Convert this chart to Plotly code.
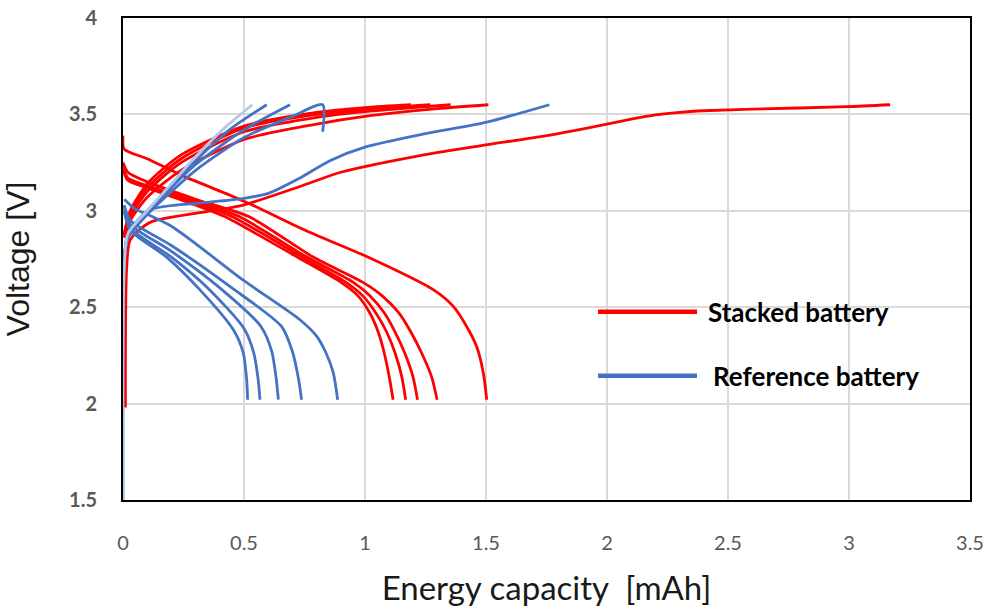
import plotly.graph_objects as go

# ---------------- data ----------------
# Stacked battery - discharge curves
red_dis_x = [
    [0.0, 0.02, 0.1, 0.3, 0.42, 0.72, 0.9, 0.97, 1.02, 1.055, 1.08, 1.1, 1.116],
    [0.0, 0.02, 0.1, 0.3, 0.45, 0.74, 0.92, 0.99, 1.045, 1.09, 1.125, 1.152, 1.168],
    [0.0, 0.02, 0.1, 0.3, 0.48, 0.76, 0.95, 1.02, 1.08, 1.125, 1.165, 1.198, 1.217],
    [0.0, 0.02, 0.1, 0.3, 0.52, 0.786, 0.99, 1.07, 1.14, 1.19, 1.235, 1.275, 1.298],
    [0.0, 0.005, 0.1, 0.25, 0.5, 0.75, 1.007, 1.282, 1.365, 1.42, 1.461, 1.489, 1.503],
]
red_dis_y = [
    [3.22, 3.16, 3.12, 3.03, 2.97, 2.76, 2.63, 2.56, 2.47, 2.37, 2.26, 2.14, 2.02],
    [3.22, 3.16, 3.12, 3.04, 2.97, 2.76, 2.63, 2.56, 2.47, 2.37, 2.26, 2.14, 2.02],
    [3.23, 3.17, 3.13, 3.05, 2.97, 2.76, 2.63, 2.56, 2.47, 2.37, 2.26, 2.14, 2.02],
    [3.25, 3.20, 3.15, 3.06, 2.97, 2.76, 2.63, 2.56, 2.47, 2.37, 2.26, 2.14, 2.02],
    [3.39, 3.32, 3.27, 3.18, 3.05, 2.90, 2.763, 2.591, 2.504, 2.40, 2.297, 2.159, 2.02],
]
# Stacked battery - charge curves
red_chg_x = [
    [0.005, 0.03, 0.1, 0.24, 0.5, 0.8, 1.0, 1.19],
    [0.005, 0.03, 0.1, 0.24, 0.5, 0.8, 1.0, 1.27],
    [0.005, 0.03, 0.1, 0.24, 0.5, 0.8, 1.0, 1.354],
    [0.005, 0.03, 0.1, 0.24, 0.5, 0.8, 1.0, 1.3, 1.51],
    [0.01, 0.015, 0.03, 0.112, 0.318, 0.497, 0.731, 0.9, 1.2, 1.475, 1.75, 2.0, 2.1,
     2.2, 2.3, 2.4, 2.6, 2.99, 3.17],
]
red_chg_y = [
    [2.88, 3.00, 3.14, 3.29, 3.44, 3.51, 3.535, 3.55],
    [2.88, 2.99, 3.12, 3.27, 3.43, 3.50, 3.525, 3.55],
    [2.87, 2.97, 3.10, 3.25, 3.41, 3.485, 3.515, 3.55],
    [2.86, 2.95, 3.07, 3.21, 3.37, 3.45, 3.49, 3.53, 3.55],
    [1.98, 2.70, 2.85, 2.94, 2.99, 3.03, 3.126, 3.20, 3.28, 3.337, 3.39, 3.45, 3.475,
     3.497, 3.511, 3.519, 3.527, 3.54, 3.55],
]
# Reference battery - discharge curves
blue_dis_x = [
    [0.005, 0.03, 0.18, 0.318, 0.456, 0.497, 0.511, 0.515],
    [0.005, 0.03, 0.2, 0.35, 0.5, 0.54, 0.558, 0.566],
    [0.005, 0.03, 0.2, 0.4, 0.57, 0.615, 0.633, 0.642],
    [0.005, 0.03, 0.2, 0.45, 0.655, 0.70, 0.725, 0.738],
    [0.005, 0.05, 0.12, 0.2, 0.3, 0.497, 0.731, 0.80, 0.84, 0.869, 0.887],
]
blue_dis_y = [
    [3.00, 2.90, 2.76, 2.59, 2.383, 2.263, 2.124, 2.02],
    [3.00, 2.91, 2.76, 2.60, 2.39, 2.265, 2.13, 2.02],
    [3.02, 2.93, 2.79, 2.60, 2.40, 2.27, 2.13, 2.02],
    [3.03, 2.95, 2.82, 2.60, 2.40, 2.27, 2.13, 2.02],
    [3.06, 3.01, 2.97, 2.92, 2.83, 2.64, 2.435, 2.35, 2.26, 2.159, 2.02],
]
# Reference battery - charge curves
blue_chg_x = [
    [0.0, 0.005, 0.02, 0.1, 0.2, 0.3, 0.42, 0.534],
    [0.005, 0.02, 0.1, 0.2, 0.3, 0.45, 0.594],
    [0.005, 0.02, 0.1, 0.2, 0.3, 0.5, 0.69],
    [0.005, 0.02, 0.1, 0.2, 0.3, 0.5, 0.7, 0.825, 0.825],
    [0.0, 0.005, 0.02, 0.112, 0.318, 0.5, 0.6, 0.731, 0.855, 1.0, 1.25, 1.503, 1.762],
]
blue_chg_y = [
    [1.5, 2.70, 2.88, 3.00, 3.14, 3.28, 3.43, 3.55],
    [2.75, 2.87, 3.00, 3.13, 3.26, 3.43, 3.55],
    [2.75, 2.86, 2.99, 3.12, 3.24, 3.42, 3.55],
    [2.75, 2.86, 2.98, 3.10, 3.21, 3.38, 3.49, 3.55, 3.41],
    [1.5, 2.70, 2.88, 3.005, 3.04, 3.065, 3.09, 3.17, 3.26, 3.33, 3.40, 3.46, 3.55],
]
blue_chg_colors = ["#B4C7E7", "#4472C4", "#4472C4", "#4472C4", "#4472C4"]

legend_labels = ["Stacked battery", "Reference battery"]
x_ticks = [0, 0.5, 1, 1.5, 2, 2.5, 3, 3.5]
y_ticks = [1.5, 2, 2.5, 3, 3.5, 4]

RED = "#FF0000"
BLUE = "#4472C4"

fig = go.Figure()


def add(xs, ys, color):
    fig.add_trace(go.Scatter(x=xs, y=ys, mode="lines",
                             line=dict(color=color, width=2.8, shape="spline", smoothing=0.7),
                             showlegend=False, hoverinfo="skip"))


for xs, ys in zip(red_chg_x, red_chg_y):
    add(xs, ys, RED)
for xs, ys in zip(red_dis_x, red_dis_y):
    add(xs, ys, RED)
for xs, ys in zip(blue_dis_x, blue_dis_y):
    add(xs, ys, BLUE)
for xs, ys, c in zip(blue_chg_x[::-1], blue_chg_y[::-1], blue_chg_colors[::-1]):
    add(xs, ys, c)

# custom legend drawn inside plot
fig.add_shape(type="line", x0=1.963, x1=2.372, y0=2.477, y1=2.477,
              line=dict(color=RED, width=4.5))
fig.add_shape(type="line", x0=1.963, x1=2.372, y0=2.145, y1=2.145,
              line=dict(color=BLUE, width=4.5))
fig.add_annotation(x=2.41, y=2.477, text="<b>" + legend_labels[0] + "</b>", showarrow=False,
                   xanchor="left", yanchor="middle",
                   font=dict(family="Lato", size=26, color="#000000"))
fig.add_annotation(x=2.43, y=2.145, text="<b>" + legend_labels[1] + "</b>", showarrow=False,
                   xanchor="left", yanchor="middle",
                   font=dict(family="Lato", size=26, color="#000000"))

fig.update_layout(
    width=987, height=608,
    margin=dict(l=123, r=17, t=18, b=108),
    paper_bgcolor="white", plot_bgcolor="white",
    showlegend=False,
)
fig.update_xaxes(
    range=[0, 3.5], tickvals=x_ticks, ticktext=[f"{v:g}" for v in x_ticks],
    showgrid=True, gridcolor="#D9D9D9", gridwidth=1.5, zeroline=False,
    showline=True, linecolor="black", linewidth=2, mirror=True,
    ticks="", ticklabelstandoff=24, automargin=False,
    tickfont=dict(family="Lato", size=20, color="#595959"),
    title=dict(text="Energy capacity  [mAh]", standoff=24,
               font=dict(family="Lato", size=33, color="#1a1a1a")),
)
fig.update_yaxes(
    range=[1.5, 4], tickvals=y_ticks, ticktext=[f"<b>{v:g}</b>" for v in y_ticks],
    showgrid=True, gridcolor="#D9D9D9", gridwidth=1.5, zeroline=False,
    showline=True, linecolor="black", linewidth=2, mirror=True,
    ticks="", ticklabelstandoff=20, automargin=False,
    tickfont=dict(family="Lato", size=20, color="#595959"),
    title=dict(text="Voltage [V]", standoff=30,
               font=dict(family="Liberation Sans", size=32, color="#1a1a1a")),
)

fig.write_html("out.html", config={"displayModeBar": False},
               post_script="document.body.style.margin='0';document.body.style.overflow='hidden';")
